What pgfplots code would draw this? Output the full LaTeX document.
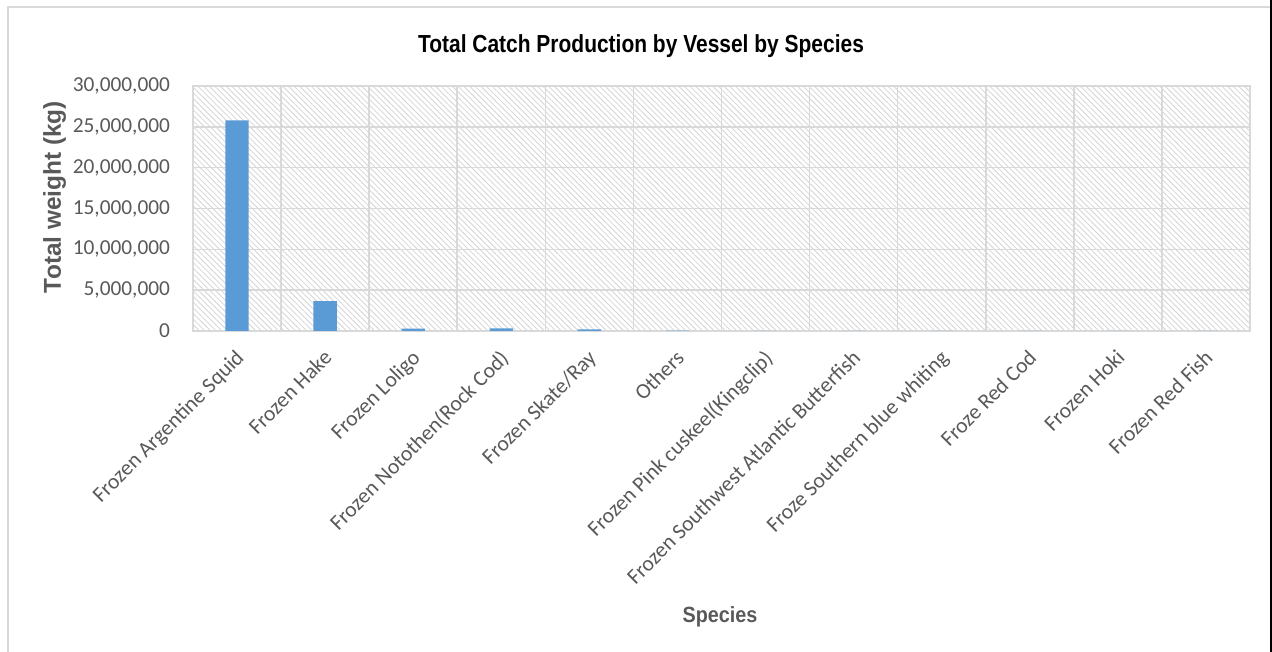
\documentclass[border=0pt]{standalone}
\usepackage{pgfplots}
\pgfplotsset{compat=1.18}
\usetikzlibrary{patterns.meta}
\usepackage{fontspec}
\setmainfont{Carlito}
\newfontfamily\narrow[FakeStretch=0.85,BoldFont={Liberation Sans Bold}]{Liberation Sans}
\newfontfamily\semi[FakeStretch=0.9,BoldFont={Liberation Sans Bold}]{Liberation Sans}
\newfontfamily\arialb{Liberation Sans Bold}
\definecolor{barblue}{RGB}{91,155,213}
\definecolor{txtgray}{RGB}{89,89,89}
\definecolor{gridgray}{RGB}{217,217,217}
\pgfplotstableread{
x y
1 25800000
2 3650000
3 300000
4 320000
5 200000
6 40000
7 20000
8 15000
9 10000
10 8000
11 5000
12 3000
}\catch
\begin{document}
\begin{tikzpicture}
\path[use as bounding box] (0,0) rectangle (954pt,489pt);
\draw[gridgray, line width=1.2pt] (6pt,0) -- (6pt,483.75pt) -- (954pt,483.75pt);
\fill[black] (952.5pt,0) rectangle (954pt,489pt);
\begin{axis}[
  at={(144.75pt,240.75pt)}, anchor=south west,
  scale only axis, width=792.75pt, height=183.75pt,
  xmin=0.5, xmax=12.5, ymin=0, ymax=30000000,
  ytick={0,5000000,...,30000000},
  scaled y ticks=false,
  /pgf/number format/fixed,
  /pgf/number format/1000 sep={,},
  /pgf/number format/assume math mode=true,
  yticklabel style={font=\fontsize{16}{18}\selectfont, text=txtgray, xshift=-13.75pt},
  xtick={1,...,12},
  xticklabels={Frozen Argentine Squid, Frozen Hake, Frozen Loligo, Frozen Notothen(Rock Cod), Frozen Skate/Ray, Others, Frozen Pink cuskeel(Kingclip), Frozen Southwest Atlantic Butterfish, Froze Southern blue whiting, Froze Red Cod, Frozen Hoki, Frozen Red Fish},
  xticklabel style={font=\fontsize{16.25}{18}\selectfont, text=txtgray, xshift=-2pt, yshift=-4pt, rotate=45, anchor=north east},
  minor xtick={1.5,2.5,...,11.5},
  xminorgrids, ymajorgrids,
  grid style={gridgray, line width=1.2pt},
  minor grid style={gridgray, line width=1.2pt},
  tick style={draw=none}, minor tick style={draw=none},
  axis line style={gridgray, line width=1.2pt},
  axis background/.style={pattern={Lines[angle=-45,distance=3pt,line width=0.6pt]}, pattern color=black!17},
  ybar, bar width=17.5pt,
]
\addplot[fill=barblue, draw=none] table[x=x,y=y] {\catch};
\end{axis}
\node[font=\narrow\bfseries\fontsize{18.5}{20}\selectfont, text=black] at (480.75pt,454.5pt) {Total Catch Production by Vessel by Species};
\node[font=\arialb\fontsize{18.3}{20}\selectfont, text=txtgray, rotate=90] at (41pt,341.25pt) {Total weight (kg)};
\node[font=\semi\bfseries\fontsize{16.5}{18}\selectfont, text=txtgray] at (540pt,26.25pt) {Species};
\end{tikzpicture}
\end{document}
